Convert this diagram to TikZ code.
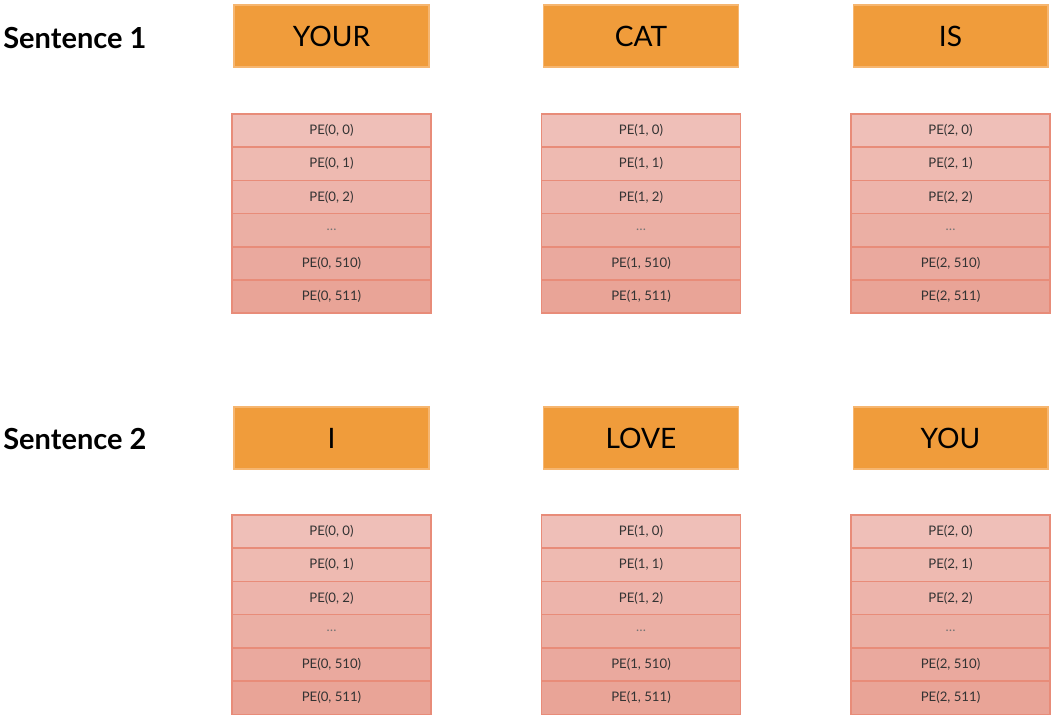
\documentclass[tikz,border=0pt]{standalone}
\usepackage{fontspec}
\setmainfont{Lato}
\usepackage{xcolor}
\usepackage{tikz}
\usetikzlibrary{positioning}

\definecolor{wordorange}{HTML}{F09C3B}
\definecolor{wordedge}{HTML}{F6B670}
\definecolor{petop}{HTML}{EFBFB8}
\definecolor{pebot}{HTML}{E9A497}
\definecolor{peedge}{HTML}{E88C79}

\begin{document}
\begin{tikzpicture}[
  x=0.02cm, y=-0.02cm,
  sentlabel/.style={anchor=west, font=\fontsize{16.5}{18}\selectfont\bfseries, inner sep=0pt},
  word/.style={draw=wordedge, line width=0.6pt, fill=wordorange, minimum width=3.9cm, minimum height=1.24cm, inner sep=0pt, font=\fontsize{16}{18}\selectfont},
  pecell/.style={draw=peedge, line width=0.8pt, minimum width=3.98cm, minimum height=0.664cm, inner sep=0pt, font=\fontsize{7.5}{8}\selectfont, text=black!80}
]
  \useasboundingbox (0,0) rectangle (1054,719);

  % Sentence labels
  \node[sentlabel] (s1) at (3,38) {Sentence 1};
  \node[sentlabel] (s2) at (3,439) {Sentence 2};

  % Word positions, one per column
  \foreach \s/\y in {1/36, 2/438} {
    \foreach \c/\x in {0/331.5, 1/641, 2/950.5} {
      \coordinate (top-\s-\c) at (\x,\y);
    }
  }
  \node[word] (w-1-0) at (top-1-0) {YOUR};
  \node[word] (w-1-1) at (top-1-1) {CAT};
  \node[word] (w-1-2) at (top-1-2) {IS};
  \node[word] (w-2-0) at (top-2-0) {I};
  \node[word] (w-2-1) at (top-2-1) {LOVE};
  \node[word] (w-2-2) at (top-2-2) {YOU};

  % Positional encoding stacks
  \foreach \s/\y in {1/130.6, 2/531.6} {
    \foreach \c/\x in {0/331.5, 1/641, 2/950.5} {
      \foreach \r/\lab in {0/0, 1/1, 2/2, 3/, 4/510, 5/511} {
        \pgfmathtruncatemacro{\mix}{100-20*\r}
        \ifnum\r=3
          \node[pecell, fill=petop!\mix!pebot, text=black!55] (pe-\s-\c-\r) at (\x,\y+33.2*\r) {\dots};
        \else
          \node[pecell, fill=petop!\mix!pebot] (pe-\s-\c-\r) at (\x,\y+33.2*\r) {PE(\c, \lab)};
        \fi
      }
    }
  }
\end{tikzpicture}
\end{document}
